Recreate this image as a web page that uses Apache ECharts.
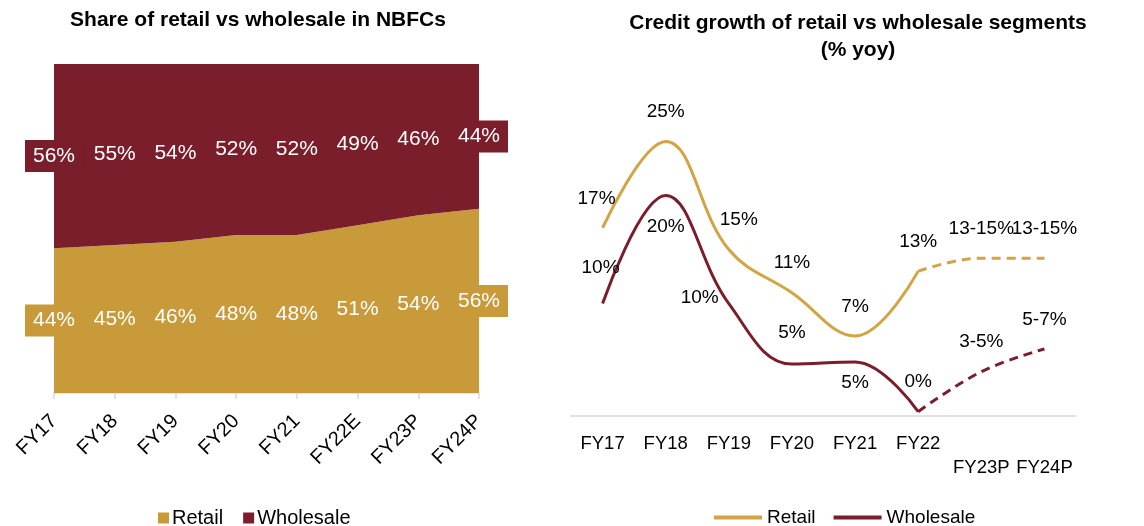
<!DOCTYPE html>
<html>
<head>
<meta charset="utf-8">
<script src="https://cdn.jsdelivr.net/npm/echarts@6/dist/echarts.min.js"></script>
<style>
html,body{margin:0;padding:0;background:#fff;}
#c{width:1144px;height:526px;}
</style>
</head>
<body>
<div id="c"></div>
<script>
// ---- Left chart data ----
const shareCategories = ['FY17','FY18','FY19','FY20','FY21','FY22E','FY23P','FY24P'];
const retailShare = [44,45,46,48,48,51,54,56];
const wholesaleShare = [56,55,54,52,52,49,46,44];

// ---- Right chart data ----
const growthCategories = ['FY17','FY18','FY19','FY20','FY21','FY22','FY23P','FY24P'];
const retailGrowth = [17,25,15,11,7,13,14.2,14.2];
const wholesaleGrowth = [10,20,10,4.4,4.6,0,3.7,5.8];
const retailGrowthLabels = ['17%','25%','15%','11%','7%','13%','13-15%','13-15%'];
const wholesaleGrowthLabels = ['10%','20%','10%','5%','5%','0%','3-5%','5-7%'];
const lastActualIndex = 5;

// ---- style config (not data) ----
const RET = '#C89A3A', WHO = '#7B1E2B', RET_LINE = '#D2A443';
const FONT = 'Liberation Sans, Arial, sans-serif';
const retailLabelCfg = [
  {position:'top', offset:[-6,0]}, {position:'top'}, {position:'top', offset:[10,0]},
  {position:'top'}, {position:'top'}, {position:'top'}, {position:'top'}, {position:'top'}
];
const wholesaleLabelCfg = [
  {position:'top', offset:[-2,-6]}, {position:'bottom', distance:22}, {position:'left', distance:10, offset:[0,-6]},
  {position:'top', distance:22}, {position:'bottom', distance:11}, {position:'top'}, {position:'top'}, {position:'top'}
];

function splitSeries(vals, labels, cfg, part){
  return vals.map((v,i)=>{
    const inSolid = i <= lastActualIndex;
    const inDash = i >= lastActualIndex;
    if (part==='solid' && !inSolid) return null;
    if (part==='dash' && !inDash) return null;
    const showLabel = part==='solid' ? true : i > lastActualIndex;
    const txt = labels[i];
    return {value:v, label:Object.assign({show:showLabel, formatter:()=>txt}, cfg[i])};
  });
}

const chart = echarts.init(document.getElementById('c'), null, {renderer:'canvas'});
const lblBase = {show:true, color:'#000', fontSize:19, fontFamily:FONT, distance:20};

const option = {
  animation:false,
  backgroundColor:'#fff',
  title:[
    {text:'Share of retail vs wholesale in NBFCs', left:253, top:5, textAlign:'center',
     textStyle:{fontSize:21, fontWeight:'bold', fontFamily:FONT, color:'#000'}},
    {text:'Credit growth of retail vs wholesale segments\n(% yoy)', left:853, top:5, textAlign:'center',
     textStyle:{fontSize:21, fontWeight:'bold', fontFamily:FONT, color:'#000', lineHeight:27}}
  ],
  legend:[
    {data:['Retail','Wholesale'], left:153, top:503, icon:'rect', itemWidth:11, itemHeight:11, itemGap:20,
     textStyle:{fontSize:20, fontFamily:FONT, color:'#000', padding:[0,0,0,-2]}},
    {data:[{name:'Retail ', itemStyle:{color:RET_LINE}}, {name:'Wholesale ', itemStyle:{color:WHO}}],
     left:709, top:503, icon:'rect', itemWidth:48, itemHeight:4, itemGap:18,
     formatter:n=>n.trim(),
     textStyle:{fontSize:19, fontFamily:FONT, color:'#000'}}
  ],
  grid:[
    {left:54, width:425, top:64, height:329},
    {left:571, width:505, top:109, height:307}
  ],
  xAxis:[
    {gridIndex:0, type:'category', data:shareCategories, boundaryGap:false,
     axisLine:{lineStyle:{color:'#D9D9D9', width:1.5}},
     axisTick:{show:true, length:6, lineStyle:{color:'#D9D9D9', width:1.5}},
     axisLabel:{interval:0, rotate:45, fontSize:20, fontFamily:FONT, color:'#000', margin:25}},
    {gridIndex:1, type:'category', data:growthCategories, boundaryGap:true,
     axisLine:{onZero:false, lineStyle:{color:'#D9D9D9', width:1.5}},
     axisTick:{show:false},
     axisLabel:{interval:0, fontSize:18.5, fontFamily:FONT, color:'#000', margin:16, lineHeight:24,
       formatter:(v,i)=> i > lastActualIndex ? '\n'+v : v}}
  ],
  yAxis:[
    {gridIndex:0, type:'value', min:0, max:100, show:false},
    {gridIndex:1, type:'value', min:-0.4, max:28, show:false}
  ],
  series:[
    {name:'Retail', type:'line', xAxisIndex:0, yAxisIndex:0, stack:'share', data:retailShare,
     symbol:'none', color:RET, lineStyle:{width:0}, areaStyle:{color:RET, opacity:1}},
    {name:'Wholesale', type:'line', xAxisIndex:0, yAxisIndex:0, stack:'share', data:wholesaleShare,
     symbol:'none', color:WHO, lineStyle:{width:0}, areaStyle:{color:WHO, opacity:1}},
    {name:'retailLbl', type:'bar', xAxisIndex:0, yAxisIndex:0, stack:'lbl', data:retailShare, barWidth:1,
     itemStyle:{color:'rgba(0,0,0,0)'}, z:5,
     label:{show:true, position:'inside', formatter:'{c}%', color:'#fff', fontSize:21, fontFamily:FONT,
       backgroundColor:RET, padding:[6,8,5,8]}},
    {name:'wholesaleLbl', type:'bar', xAxisIndex:0, yAxisIndex:0, stack:'lbl', data:wholesaleShare, barWidth:1,
     itemStyle:{color:'rgba(0,0,0,0)'}, z:5,
     label:{show:true, position:'inside', formatter:'{c}%', color:'#fff', fontSize:21, fontFamily:FONT,
       backgroundColor:WHO, padding:[6,8,5,8]}},

    {name:'Retail ', type:'line', xAxisIndex:1, yAxisIndex:1, smooth:0.4, symbol:'circle', symbolSize:0.1,
     showSymbol:true, color:RET_LINE,
     lineStyle:{width:3, color:RET_LINE}, label:Object.assign({}, lblBase),
     data:splitSeries(retailGrowth, retailGrowthLabels, retailLabelCfg, 'solid')},
    {name:'retailDash', type:'line', xAxisIndex:1, yAxisIndex:1, smooth:0.4, symbol:'circle', symbolSize:0.1,
     showSymbol:true, color:RET_LINE,
     lineStyle:{width:3, color:RET_LINE, type:[9,6]}, label:Object.assign({}, lblBase),
     data:splitSeries(retailGrowth, retailGrowthLabels, retailLabelCfg, 'dash')},
    {name:'Wholesale ', type:'line', xAxisIndex:1, yAxisIndex:1, smooth:0.4, symbol:'circle', symbolSize:0.1,
     showSymbol:true, color:WHO,
     lineStyle:{width:3, color:WHO}, label:Object.assign({}, lblBase),
     data:splitSeries(wholesaleGrowth, wholesaleGrowthLabels, wholesaleLabelCfg, 'solid')},
    {name:'wholesaleDash', type:'line', xAxisIndex:1, yAxisIndex:1, smooth:0.4, symbol:'circle', symbolSize:0.1,
     showSymbol:true, color:WHO,
     lineStyle:{width:3, color:WHO, type:[9,6]}, label:Object.assign({}, lblBase),
     data:splitSeries(wholesaleGrowth, wholesaleGrowthLabels, wholesaleLabelCfg, 'dash')}
  ]
};
chart.setOption(option);
</script>
</body>
</html>
